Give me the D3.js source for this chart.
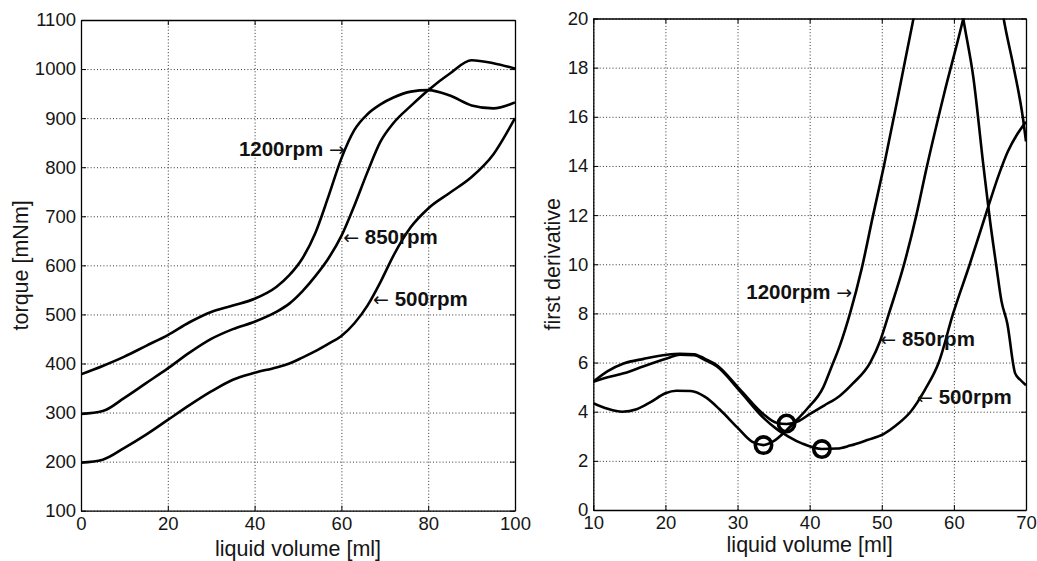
<!DOCTYPE html>
<html>
<head>
<meta charset="utf-8">
<script src="https://cdn.jsdelivr.net/npm/d3@7"></script>
<style>
    body { margin: 0; background: #fff; }
    svg { display: block; font-family: "Liberation Sans", Arial, sans-serif; }
</style>
</head>
<body>
<script>
(function(){

    // ---- left panel: torque curves ----
    var torqueVolume = [0,5,10,15,20,25,30,35,40,45,48,51,54,57,60,63,66,69,72,76,80,85,90,95,100];
    var torque1200 = [378,395,414,436,458,484,505,518,532,556,580,614,666,740,818,876,908,928,942,954,957,946,926,920,932];
    var torque850  = [297,303,330,360,390,422,450,470,485,505,522,547,578,614,660,722,790,852,890,925,957,991,1018,1012,1001];
    var torque500  = [198,204,228,255,285,315,343,367,381,392,400,412,425,440,456,482,518,566,620,678,716,748,780,826,900];

    // ---- right panel: first derivative curves ----
    var deriv1200Volume = [10,12,14,16,18,20,21.5,23.5,25.5,27.5,30,32,33.6,35,36.8,38,39.6,41.9,43,44.2,45.6,47.2,48.8,50.3,52.3,54.4,56.5,58.5,60,61.3,62.7,64.1,65,65.9,66.6,67.4,68.5,69.2,70];
    var deriv1200 = [4.35,4.12,4.0,4.1,4.4,4.75,4.85,4.84,4.6,4.1,3.35,2.78,2.64,2.8,3.25,3.6,4.1,5.0,5.8,6.7,8.0,9.8,12.0,14.0,16.9,20,23,24,22.5,20,17.6,14.0,11.8,9.9,8.5,7.6,5.56,5.3,5.08];

    var deriv850Volume = [10,12,14.2,17,20.2,22,24,25.5,27.1,30.3,33.6,35.4,36.8,38.5,40,42,44.2,46,48.4,49.8,51,53,54.8,56.2,58.7,61.3,63.5,65,66.9,68.3,69.6,70];
    var deriv850 = [5.22,5.65,5.96,6.15,6.32,6.36,6.34,6.15,5.9,4.92,3.9,3.55,3.5,3.62,3.9,4.25,4.65,5.15,6.0,6.9,8.0,9.9,12.0,13.9,17.0,20,23,24,20,18,15.9,15.0];

    var deriv500Volume = [10,12,14.2,17,19,20.5,22,24,25.5,27.1,30.3,33.6,35.4,37,39,41.7,43.8,45.6,48,50.3,52,54,56,57.9,59.9,62.2,64.5,66.3,67.5,68.8,70];
    var deriv500 = [5.22,5.4,5.56,5.85,6.05,6.2,6.32,6.3,6.1,5.85,4.85,3.75,3.3,3.0,2.7,2.48,2.5,2.62,2.85,3.1,3.45,4.0,4.9,6.0,8.0,10.0,12.1,13.7,14.6,15.3,15.8];

    // circled minima
    var minimaVolume = [33.6, 36.8, 41.7];
    var minimaValue  = [2.64, 3.52, 2.48];

    // tick values
    var torqueXTicks = [0,20,40,60,80,100];
    var torqueYTicks = [100,200,300,400,500,600,700,800,900,1000,1100];
    var derivXTicks  = [10,20,30,40,50,60,70];
    var derivYTicks  = [0,2,4,6,8,10,12,14,16,18,20];

    // annotations: label and arrow tip (data units)
    var torqueNoteText = ["1200rpm", "850rpm", "500rpm"];
    var torqueNoteX = [60.8, 60.4, 67.3];
    var torqueNoteY = [835, 655, 529];
    var derivNoteText = ["1200rpm", "850rpm", "500rpm"];
    var derivNoteX = [45.9, 49.8, 54.9];
    var derivNoteY = [8.81, 6.9, 4.54];
    var noteSide = ["right", "left", "left"];

    var svg = d3.select("body")
        .append("svg")
        .attr("width", 1037)
        .attr("height", 561);

    drawPanel({
        id: "torque",
        left: 81, right: 515, top: 20, bottom: 510.7,
        xDomain: [0, 100], yDomain: [100, 1100],
        xTicks: torqueXTicks, yTicks: torqueYTicks,
        series: [[torqueVolume, torque1200], [torqueVolume, torque850], [torqueVolume, torque500]],
        notes: [torqueNoteText, torqueNoteX, torqueNoteY],
        xLabel: "liquid volume [ml]", xLabelY: 556,
        yLabel: "torque [mNm]", yLabelX: 28
    });

    var deriv = drawPanel({
        id: "deriv",
        left: 593.3, right: 1026, top: 18.5, bottom: 510,
        xDomain: [10, 70], yDomain: [0, 20],
        xTicks: derivXTicks, yTicks: derivYTicks,
        series: [[deriv1200Volume, deriv1200], [deriv850Volume, deriv850], [deriv500Volume, deriv500]],
        notes: [derivNoteText, derivNoteX, derivNoteY],
        xLabel: "liquid volume [ml]", xLabelY: 552,
        yLabel: "first derivative", yLabelX: 560
    });

    svg.selectAll(".minimum")
        .data(d3.zip(minimaVolume, minimaValue))
        .enter()
        .append("circle")
        .attr("class", "minimum")
        .attr("cx", function(d){ return deriv.x(d[0]); })
        .attr("cy", function(d){ return deriv.y(d[1]); })
        .attr("r", 8.2)
        .attr("fill", "none")
        .attr("stroke", "#000")
        .attr("stroke-width", 3.6);

    function drawPanel(p){
        var x = d3.scaleLinear().domain(p.xDomain).range([p.left, p.right]);
        var y = d3.scaleLinear().domain(p.yDomain).range([p.bottom, p.top]);
        var w = p.right - p.left,
            h = p.bottom - p.top;

        // dotted grid
        svg.append("g")
            .attr("transform", "translate(0," + p.bottom + ")")
            .call(d3.axisBottom(x).tickValues(p.xTicks).tickSize(-h).tickFormat(""))
            .call(styleGrid);
        svg.append("g")
            .attr("transform", "translate(" + p.left + ",0)")
            .call(d3.axisLeft(y).tickValues(p.yTicks).tickSize(-w).tickFormat(""))
            .call(styleGrid);

        // curves
        svg.append("clipPath")
            .attr("id", "clip-" + p.id)
            .append("rect")
            .attr("x", p.left)
            .attr("y", p.top)
            .attr("width", w)
            .attr("height", h);

        var line = d3.line()
            .x(function(d){ return x(d[0]); })
            .y(function(d){ return y(d[1]); })
            .curve(d3.curveMonotoneX);

        p.series.forEach(function(s){
            svg.append("path")
                .datum(d3.zip(s[0], s[1]))
                .attr("clip-path", "url(#clip-" + p.id + ")")
                .attr("d", line)
                .attr("fill", "none")
                .attr("stroke", "#000")
                .attr("stroke-width", 2.6)
                .attr("stroke-linejoin", "round");
        });

        // box with inward ticks
        var fmt = d3.format("d");
        var bottomAxis = svg.append("g")
            .attr("transform", "translate(0," + p.bottom + ")")
            .call(d3.axisBottom(x).tickValues(p.xTicks).tickFormat(fmt).tickSize(-5).tickSizeOuter(0).tickPadding(6));
        var leftAxis = svg.append("g")
            .attr("transform", "translate(" + p.left + ",0)")
            .call(d3.axisLeft(y).tickValues(p.yTicks).tickFormat(fmt).tickSize(-5).tickSizeOuter(0).tickPadding(5));
        var topAxis = svg.append("g")
            .attr("transform", "translate(0," + p.top + ")")
            .call(d3.axisTop(x).tickValues(p.xTicks).tickSize(-5).tickSizeOuter(0).tickFormat(""));
        var rightAxis = svg.append("g")
            .attr("transform", "translate(" + p.right + ",0)")
            .call(d3.axisRight(y).tickValues(p.yTicks).tickSize(-5).tickSizeOuter(0).tickFormat(""));

        [bottomAxis, leftAxis, topAxis, rightAxis].forEach(function(a){
            a.attr("font-family", null).attr("font-size", null);
            a.select(".domain").attr("stroke", "#000").attr("stroke-width", 1.3);
            a.selectAll(".tick line").attr("stroke", "#000").attr("stroke-width", 1);
            a.selectAll(".tick text")
                .attr("fill", "#151515")
                .style("font-size", "18.5px");
        });

        // axis titles
        svg.append("text")
            .attr("x", (p.left + p.right) / 2)
            .attr("y", p.xLabelY)
            .attr("text-anchor", "middle")
            .attr("fill", "#151515")
            .style("font-size", "21.5px")
            .text(p.xLabel);

        svg.append("text")
            .attr("transform", "translate(" + p.yLabelX + "," + ((p.top + p.bottom) / 2) + ") rotate(-90)")
            .attr("text-anchor", "middle")
            .attr("fill", "#151515")
            .style("font-size", "21.5px")
            .text(p.yLabel);

        // arrow labels
        var noteText = p.notes[0], noteX = p.notes[1], noteY = p.notes[2];
        noteText.forEach(function(t, i){
            var tx = svg.append("text")
                .attr("x", x(noteX[i]))
                .attr("y", y(noteY[i]) + 6)
                .attr("fill", "#111")
                .style("font-size", "20.5px");
            if (noteSide[i] == "right"){
                tx.attr("text-anchor", "end");
                tx.append("tspan").style("font-weight", "bold").text(t + " ");
                tx.append("tspan").attr("class", "arrow").text("\u2192");
            } else {
                tx.attr("text-anchor", "start");
                tx.append("tspan").attr("class", "arrow").text("\u2190");
                tx.append("tspan").style("font-weight", "bold").text(" " + t);
            }
            tx.selectAll(".arrow")
                .style("font-family", "'DejaVu Sans'")
                .style("font-size", "19px");
        });

        return {x: x, y: y};
    };

    function styleGrid(g){
        g.select(".domain").remove();
        g.attr("font-family", null).attr("font-size", null);
        g.selectAll(".tick line")
            .attr("stroke", "#333")
            .attr("stroke-width", 1)
            .attr("stroke-dasharray", "1,2.2");
    };

})();
</script>
</body>
</html>
